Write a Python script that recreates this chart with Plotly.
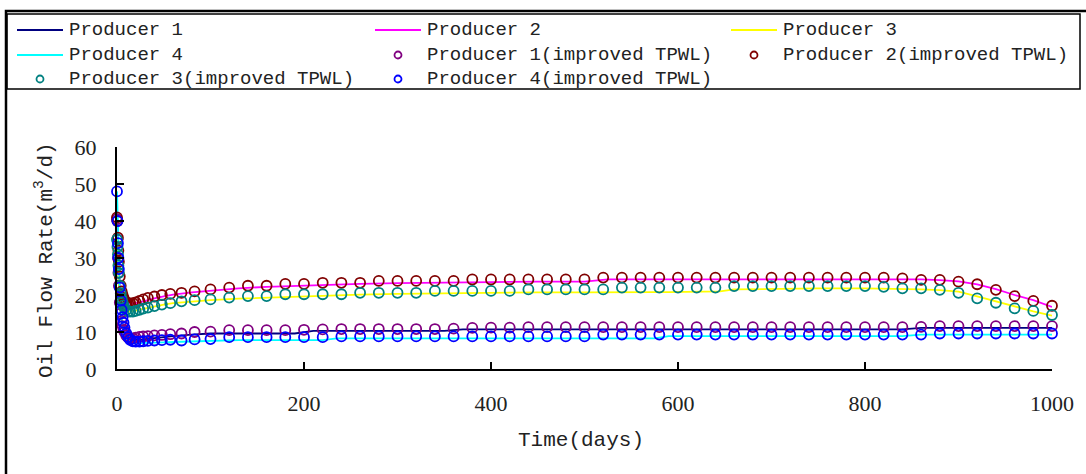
import plotly.graph_objects as go

# ---- data ----
# simulation (line) time grid, days
t_line = [0, 1, 2, 3, 4, 6, 8, 10, 13, 16,
          20, 25, 30, 40, 50, 60, 80, 100, 130, 160,
          190, 210, 220, 235, 260, 300, 350, 370, 400, 450,
          500, 525, 550, 575, 590, 620, 645, 660, 700, 750,
          800, 840, 860, 880, 900, 920, 940, 960, 980, 1000]

p1_line = [40, 30, 23, 18.5, 15, 11.5, 9.6, 8.6, 8.0, 7.8,
           7.8, 7.9, 8.1, 8.4, 8.7, 8.9, 9.3, 9.6, 9.6, 9.6,
           9.6, 10.3, 10.3, 10.3, 10.3, 10.3, 10.3, 10.7, 10.7, 10.7,
           10.7, 10.7, 10.7, 10.7, 10.7, 10.7, 10.7, 10.7, 10.7, 10.7,
           10.7, 10.7, 11.1, 11.1, 11.1, 11.1, 11.1, 11.1, 11.1, 11.1]
p2_line = [41, 32, 26, 22.5, 20.5, 19, 18.3, 17.9, 17.6, 17.6,
           17.8, 18.1, 18.5, 19.1, 19.6, 20.1, 20.7, 21.2, 21.8, 22.2,
           22.5, 22.7, 22.8, 22.9, 23.0, 23.2, 23.4, 23.5, 23.5, 23.6,
           23.6, 24.2, 24.2, 24.3, 24.3, 24.3, 24.4, 24.4, 24.4, 24.4,
           24.4, 24.3, 24.2, 24.0, 23.7, 22.9, 21.6, 20.0, 18.6, 16.8]
p3_line = [35, 28, 23, 20, 18.3, 17, 16.3, 15.9, 15.6, 15.6,
           15.8, 16.1, 16.4, 16.9, 17.4, 17.8, 18.3, 18.6, 19.0, 19.3,
           19.6, 19.8, 19.9, 20.0, 20.1, 20.3, 20.5, 20.5, 20.6, 20.7,
           20.7, 20.8, 20.8, 20.8, 20.8, 20.9, 21.0, 21.5, 21.7, 21.8,
           21.8, 21.7, 21.5, 21.3, 20.9, 19.6, 18.2, 16.8, 15.6, 14.4]
p4_line = [48, 36, 27, 21, 17, 12, 9.5, 8.3, 7.5, 7.2,
           7.0, 7.0, 7.0, 7.1, 7.2, 7.3, 7.5, 7.7, 7.8, 7.8,
           7.8, 7.8, 7.8, 8.3, 8.3, 8.3, 8.3, 8.3, 8.3, 8.3,
           8.3, 8.3, 8.3, 8.3, 8.9, 8.9, 8.9, 8.9, 8.9, 8.9,
           8.9, 8.9, 9.3, 9.3, 9.3, 9.3, 9.3, 9.3, 9.3, 9.3]

# improved TPWL (marker) time grid, days
t_mark = [0, 0.5, 1, 1.5, 2, 3, 4, 5, 6, 7, 8, 10, 12, 14, 17, 20, 24, 28, 33, 40, 48, 57, 69, 83,
          100, 120, 140, 160, 180, 200, 220, 240, 260, 280, 300, 320, 340, 360, 380, 400,
          420, 440, 460, 480, 500, 520, 540, 560, 580, 600, 620, 640, 660, 680, 700, 720,
          740, 760, 780, 800, 820, 840, 860, 880, 900, 920, 940, 960, 980, 1000]

p1_mark = [40.5, 35, 30, 26, 22.5, 18, 15, 13, 11.6, 10.6, 10.0, 9.0, 8.5, 8.3, 8.3, 8.5, 8.7, 8.8,
           8.9, 9.1, 9.2, 9.4, 9.6, 10.0,
           10.1, 10.5, 10.5, 10.5, 10.5, 10.6, 10.7, 10.8, 10.8, 10.8, 10.8, 10.8, 10.8, 10.9,
           11.1, 11.2, 11.2,
           11.3, 11.3, 11.3, 11.3, 11.3, 11.3, 11.3, 11.3, 11.3, 11.3, 11.3, 11.3, 11.3, 11.3,
           11.3, 11.3, 11.3, 11.3, 11.3, 11.3, 11.3,
           11.4, 11.6, 11.6, 11.6, 11.6, 11.6, 11.6, 11.6]
p2_mark = [41, 40, 35.5, 32, 29, 25, 22.5, 21, 20, 19.2, 18.6, 18.0, 17.7, 17.7, 17.8, 18.0, 18.4,
           18.8, 19.2, 19.6, 20.0, 20.3, 20.6, 21.0,
           21.5, 22.0, 22.5, 22.5, 23.0, 23.0, 23.3, 23.3, 23.3, 23.8, 23.8, 23.8, 23.8, 23.8,
           24.2, 24.2, 24.2, 24.2, 24.2, 24.2, 24.2,
           24.7, 24.7, 24.7, 24.7, 24.7, 24.7, 24.7, 24.7, 24.7, 24.7, 24.7, 24.7, 24.7, 24.7,
           24.7, 24.7,
           24.5, 24.1, 24.1, 23.6, 22.9, 21.4, 19.7, 18.4, 17.1]
p3_mark = [35, 33, 31, 28, 26, 22.5, 20.5, 19, 18, 17.2, 16.6, 16.0, 15.6, 15.5, 15.5, 15.7, 16.0,
           16.3, 16.6, 17.0, 17.4, 17.8, 18.3, 18.6,
           18.8, 19.3, 19.7, 19.7, 20.2, 20.2, 20.2, 20.2, 20.6, 20.6, 20.6, 20.6, 21.1, 21.1,
           21.1, 21.1, 21.1, 21.5, 21.5, 21.5, 21.5, 21.5,
           22.0, 22.0, 22.0, 22.0, 22.0, 22.0,
           22.4, 22.4, 22.4, 22.4, 22.4, 22.4, 22.4, 22.4,
           22.2, 21.8, 21.8, 21.4, 20.6, 19.1, 17.9, 16.4, 15.7, 14.6]
p4_mark = [48, 40, 34, 30, 27, 22, 18.5, 16, 14, 12.5, 11.2, 9.6, 8.6, 7.9, 7.5, 7.4, 7.4, 7.5,
           7.6, 7.7, 7.8, 7.9, 7.7, 8.0,
           8.1, 8.6, 8.6, 8.6, 8.6, 8.6, 8.6,
           8.8, 8.8, 8.8, 8.8, 8.8, 8.8, 8.8, 8.8, 8.8, 8.8, 8.8, 8.8, 8.8, 8.8,
           9.3, 9.3, 9.3, 9.3, 9.3, 9.3, 9.3, 9.3, 9.3, 9.3, 9.3, 9.3, 9.3, 9.3, 9.3, 9.3,
           9.3, 9.3,
           9.6, 9.6, 9.6, 9.6, 9.6, 9.6, 9.6]

x_ticks = [0, 200, 400, 600, 800, 1000]
y_ticks = [0, 10, 20, 30, 40, 50, 60]

line_names = ["Producer 1", "Producer 2", "Producer 3", "Producer 4"]
mark_names = ["Producer 1(improved TPWL)", "Producer 2(improved TPWL)",
              "Producer 3(improved TPWL)", "Producer 4(improved TPWL)"]
line_colors = ["#000080", "#FF00FF", "#FFFF00", "#00FFFF"]
mark_colors = ["#800080", "#800000", "#008080", "#0000FF"]

# ---- figure ----
W, H = 1086, 474
L, R, T, B = 117, 34, 147, 105
pw, ph = W - L - R, H - T - B


def px(x):
    return (x - L) / pw


def py(y):
    return (H - B - y) / ph


fig = go.Figure()
for name, vals, col in zip(line_names, [p1_line, p2_line, p3_line, p4_line], line_colors):
    fig.add_trace(go.Scatter(x=t_line, y=vals, mode="lines", name=name,
                             line=dict(color=col, width=1.8), cliponaxis=False))
for name, vals, col in zip(mark_names, [p1_mark, p2_mark, p3_mark, p4_mark], mark_colors):
    fig.add_trace(go.Scatter(x=t_mark, y=vals, mode="markers", name=name,
                             marker=dict(symbol="circle-open", size=10, color=col,
                                         line=dict(width=1.8, color=col)),
                             cliponaxis=False))

axis_common = dict(showgrid=False, zeroline=False, showline=True, linecolor="black",
                   linewidth=2, ticks="inside", ticklen=7, tickwidth=2, tickcolor="black",
                   tickfont=dict(family="Liberation Serif", size=22, color="#222"))
fig.update_xaxes(range=[0, 1000], tickvals=x_ticks, ticklabelstandoff=14, **axis_common)
fig.update_yaxes(range=[0, 60], tickvals=y_ticks, ticklabelstandoff=14, **axis_common)

fig.add_annotation(text="Oil Flow Rate(m<sup>3</sup>/d)", xref="paper", yref="paper",
                   x=px(44), y=py(260), textangle=-90, showarrow=False,
                   xanchor="center", yanchor="middle",
                   font=dict(family="Liberation Mono", size=21, color="#222"))
fig.add_annotation(text="Time(days)", xref="paper", yref="paper",
                   x=px(581), y=py(440), showarrow=False,
                   xanchor="center", yanchor="middle",
                   font=dict(family="Liberation Mono", size=21, color="#222"))

# outer frame and legend box
fig.add_shape(type="rect", xref="paper", yref="paper", x0=px(6), x1=px(1100),
              y0=py(490), y1=py(11), line=dict(color="black", width=2.5), layer="above")
fig.add_shape(type="rect", xref="paper", yref="paper", x0=px(7), x1=px(1080),
              y0=py(89), y1=py(14), line=dict(color="black", width=1.5), layer="above")

# legend drawn as a 3-column grid (row-major order, like the reference)
col_x = [17, 375, 731]
row_y = [30, 55, 79]
entries = ([(n, c, "line") for n, c in zip(line_names, line_colors)] +
           [(n, c, "marker") for n, c in zip(mark_names, mark_colors)])
for i, (name, col, kind) in enumerate(entries):
    cx, cy = col_x[i % 3], row_y[i // 3]
    if kind == "line":
        fig.add_shape(type="line", xref="paper", yref="paper", x0=px(cx), x1=px(cx + 46),
                      y0=py(cy), y1=py(cy), line=dict(color=col, width=2))
    else:
        fig.add_shape(type="circle", xref="paper", yref="paper",
                      xsizemode="pixel", ysizemode="pixel",
                      xanchor=px(cx + 23), yanchor=py(cy), x0=-3.5, x1=3.5, y0=-3.5, y1=3.5,
                      line=dict(color=col, width=1.8))
    fig.add_annotation(text=name, xref="paper", yref="paper", x=px(cx + 50), y=py(cy),
                       xanchor="left", yanchor="middle", showarrow=False,
                       font=dict(family="Liberation Mono", size=19, color="#222"))

fig.update_layout(
    width=W, height=H,
    margin=dict(l=L, r=R, t=T, b=B, autoexpand=False),
    paper_bgcolor="white", plot_bgcolor="white",
    showlegend=False,
)

fig.write_html("out.html", config={"displayModeBar": False},
               post_script="document.body.style.margin='0px';")
